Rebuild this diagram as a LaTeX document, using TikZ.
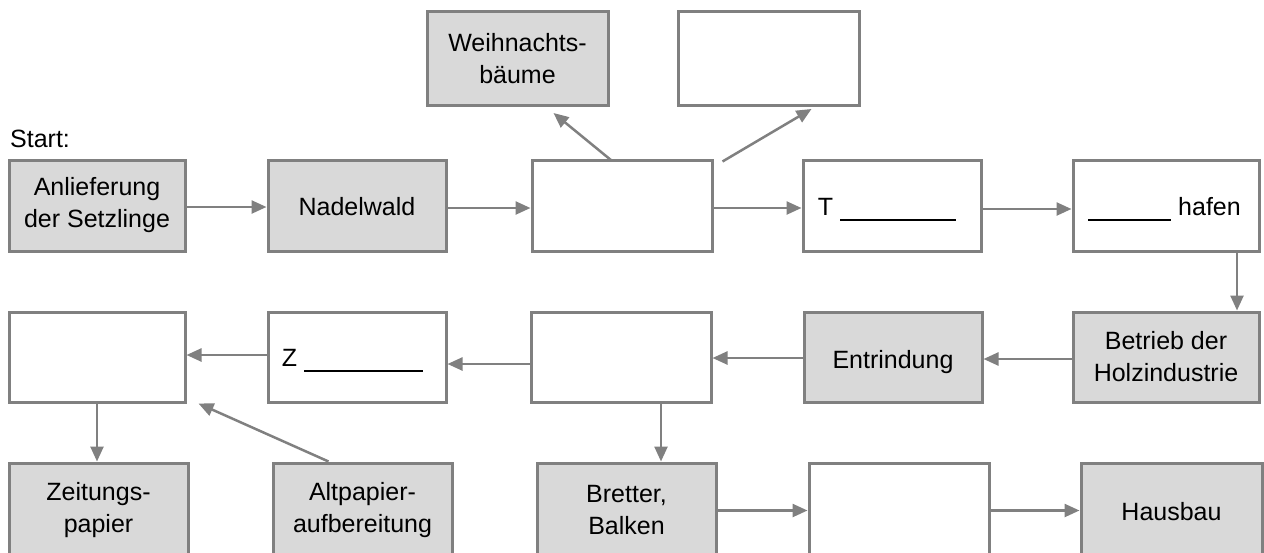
\documentclass[tikz,border=0pt]{standalone}
\usepackage{fontspec}
\setmainfont{Liberation Sans}
\usetikzlibrary{arrows.meta,calc}
\definecolor{bordergray}{HTML}{808080}
\definecolor{boxfill}{HTML}{D9D9D9}
\tikzset{
  box/.style={draw=bordergray, line width=3pt, inner sep=0pt, align=center,
    font=\fontsize{25}{32}\selectfont, text=black},
  grey/.style={box, fill=boxfill},
  white/.style={box, fill=white},
  one/.style={text height=19pt, text depth=0pt},
  arr/.style={draw=bordergray, line width=2.5pt,
    -{Triangle[length=15pt,width=13pt]}}
}
\newcommand{\gap}[1]{\rule[-5.5pt]{#1}{2pt}}
\begin{document}
\begin{tikzpicture}[x=1pt,y=-1pt]
\useasboundingbox (0,0) rectangle (1264,552);
\clip (0,0) rectangle (1264,552);
% top
\node[grey, minimum width=181pt, minimum height=94.5pt] (W) at (517.5,58.25) {Weihnachts-\\bäume};
\node[white, minimum width=181pt, minimum height=94.5pt] (TR) at (768.5,58.25) {};
% start label
\node[anchor=base west, inner sep=0pt, font=\fontsize{25}{32}\selectfont] (start) at (10,147) {Start:};
% row 1
\node[grey, minimum width=176pt, minimum height=91pt] (A) at (97,205.5) {Anlieferung\\der Setzlinge};
\node[grey, one, minimum width=178pt, minimum height=91pt] (N) at (357,205.5) {Nadelwald};
\node[white, minimum width=180pt, minimum height=91pt] (E3) at (622,205.5) {};
\node[white, one, minimum width=178pt, minimum height=91pt] (T) at (892,205.5) {T \gap{116pt}\hspace{10pt}};
\node[white, one, minimum width=186pt, minimum height=91pt] (H) at (1166,205.5) {\gap{83pt} hafen\hspace{3pt}};
% row 2
\node[white, minimum width=176pt, minimum height=90pt] (R2a) at (97,357) {};
\node[white, one, minimum width=178pt, minimum height=90pt] (Z) at (357,357) {Z \gap{119pt}\hspace{9pt}};
\node[white, minimum width=180pt, minimum height=90pt] (R2c) at (621,357) {};
\node[grey, text height=22pt, text depth=0pt, minimum width=178pt, minimum height=90pt] (Ent) at (893,357) {Entrindung};
\node[grey, minimum width=186pt, minimum height=90pt] (Betr) at (1166,357) {Betrieb der\\Holzindustrie};
% row 3
\node[grey, minimum width=179pt, minimum height=95pt] (Zeit) at (98.5,510.5) {Zeitungs-\\papier};
\node[grey, minimum width=179pt, minimum height=95pt] (Alt) at (362.5,510.5) {Altpapier-\\aufbereitung};
\node[grey, minimum width=179pt, minimum height=95pt] (Bre) at (626.5,510.5) {Bretter,\\Balken};
\node[white, minimum width=180pt, minimum height=95pt] (R3d) at (899,510.5) {};
\node[grey, one, minimum width=181pt, minimum height=95pt] (Haus) at (1171.5,510.5) {Hausbau};
% connectors
\draw[arr] ($(A.east)+(0,1.5)$) -- ($(N.west)+(0,1.5)$);
\draw[arr] ($(N.east)+(0,2.5)$) -- ($(E3.west)+(0,2.5)$);
\draw[arr] ($(E3.east)+(0,2.5)$) -- ($(T.west)+(0,2.5)$);
\draw[arr] ($(T.east)+(0,3.5)$) -- ($(H.west)+(0,3.5)$);
\draw[arr] ($(H.south)+(71,0)$) -- ($(Betr.north)+(71,0)$);
\draw[arr] ($(Betr.west)+(0,2)$) -- ($(Ent.east)+(0,2)$);
\draw[arr] ($(Ent.west)+(0,1)$) -- ($(R2c.east)+(0,1)$);
\draw[arr] ($(R2c.west)+(0,7)$) -- ($(Z.east)+(0,7)$);
\draw[arr] ($(Z.west)+(0,-2)$) -- ($(R2a.east)+(0,-2)$);
\draw[arr] (R2a.south) -- (Zeit.north -| R2a.south);
\draw[arr] ($(Alt.north west)+(57,0)$) -- ($(R2a.south east)+(12,0)$);
\draw[arr] ($(R2c.south)+(40,0)$) -- ($(Bre.north)+(34.5,0)$);
\draw[arr] (Bre.east) -- (R3d.west);
\draw[arr] (R3d.east) -- (Haus.west);
\draw[arr] ($(E3.north west)+(81,2)$) -- ($(W.south west)+(128,6)$);
\draw[arr] ($(E3.north east)+(9,3)$) -- ($(TR.south west)+(135,2)$);
\end{tikzpicture}
\end{document}
